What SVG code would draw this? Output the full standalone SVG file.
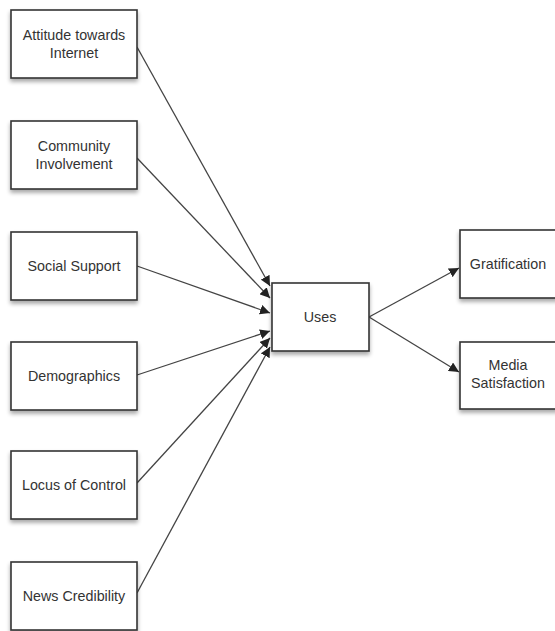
<svg xmlns="http://www.w3.org/2000/svg" width="555" height="631" viewBox="0 0 555 631">
<defs>
<style>
.box{fill:#fff;stroke:#333;stroke-width:1.6;filter:url(#sh)}
.t{font-family:"Liberation Sans",Arial,sans-serif;font-size:14.3px;fill:#333;text-anchor:middle}
.c{stroke:#444;stroke-width:1.3;fill:none;marker-end:url(#ah)}
</style>
<filter id="sh" x="-20%" y="-20%" width="140%" height="150%">
<feGaussianBlur in="SourceAlpha" stdDeviation="2"/>
<feOffset dx="0" dy="3" result="b"/>
<feComponentTransfer><feFuncA type="linear" slope="0.35"/></feComponentTransfer>
<feMerge><feMergeNode/><feMergeNode in="SourceGraphic"/></feMerge>
</filter>
<marker id="ah" viewBox="0 0 10 10" refX="10" refY="5" markerWidth="10" markerHeight="10" markerUnits="userSpaceOnUse" orient="auto">
<path d="M0,0 L10,5 L0,10 z" fill="#222"/>
</marker>
</defs>
<rect width="555" height="631" fill="#fff"/>
<g id="connectors">
<line class="c" x1="137" y1="47" x2="270" y2="286"/>
<line class="c" x1="137" y1="158" x2="270" y2="298"/>
<line class="c" x1="137" y1="266" x2="270" y2="313"/>
<line class="c" x1="137" y1="375" x2="270" y2="331"/>
<line class="c" x1="137" y1="483" x2="270" y2="338"/>
<line class="c" x1="137" y1="593" x2="270" y2="347"/>
<line class="c" x1="369" y1="317" x2="459" y2="268"/>
<line class="c" x1="369" y1="317" x2="459" y2="372"/>
</g>
<g id="attitude"><rect class="box" x="11" y="10" width="126" height="68"/><text class="t" x="74" y="40">Attitude towards</text><text class="t" x="74" y="58">Internet</text></g>
<g id="community"><rect class="box" x="11" y="121" width="126" height="68"/><text class="t" x="74" y="151">Community</text><text class="t" x="74" y="169">Involvement</text></g>
<g id="social"><rect class="box" x="11" y="232" width="126" height="68"/><text class="t" x="74" y="271">Social Support</text></g>
<g id="demographics"><rect class="box" x="11" y="342" width="126" height="68"/><text class="t" x="74" y="381">Demographics</text></g>
<g id="locus"><rect class="box" x="11" y="451" width="126" height="68"/><text class="t" x="74" y="490">Locus of Control</text></g>
<g id="news"><rect class="box" x="11" y="562" width="126" height="68"/><text class="t" x="74" y="601">News Credibility</text></g>
<g id="uses"><rect class="box" x="272" y="283" width="97" height="68"/><text class="t" x="320" y="322">Uses</text></g>
<g id="gratification"><rect class="box" x="460" y="230" width="98" height="68"/><text class="t" x="508" y="269">Gratification</text></g>
<g id="media"><rect class="box" x="460" y="342" width="98" height="67"/><text class="t" x="508" y="370">Media</text><text class="t" x="508" y="388">Satisfaction</text></g>
</svg>
